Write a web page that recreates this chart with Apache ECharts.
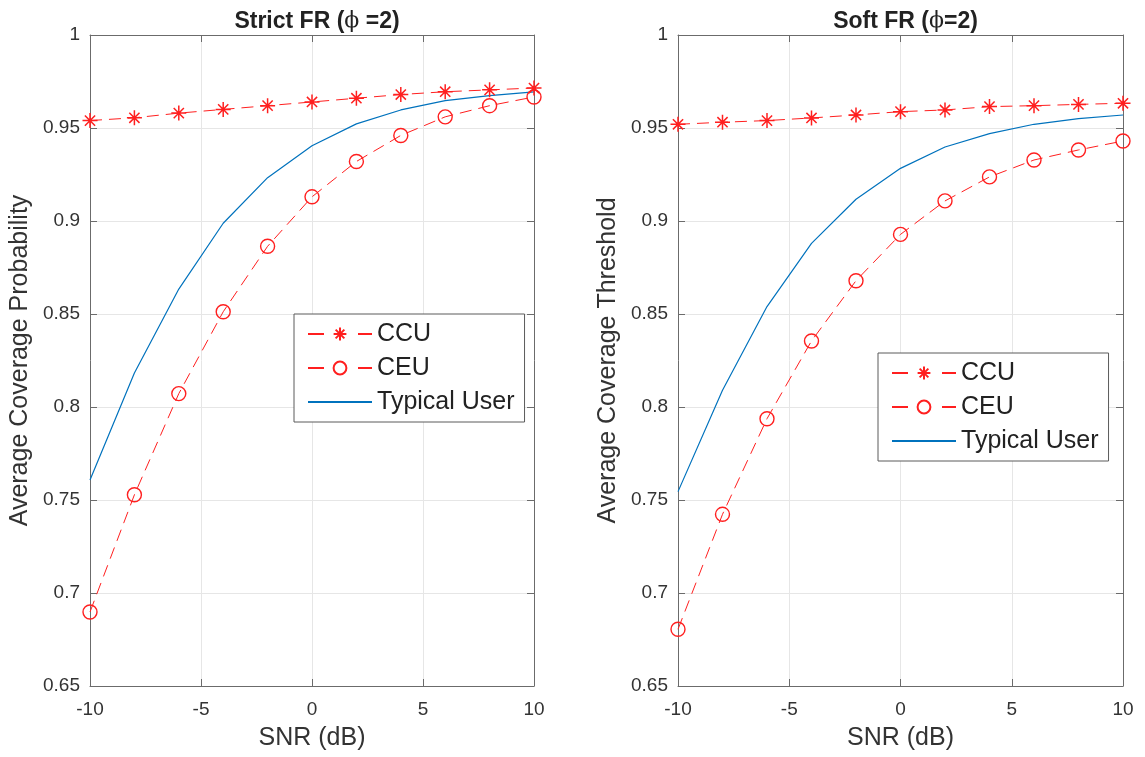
<!DOCTYPE html>
<html>
<head>
<meta charset="utf-8">
<script src="https://cdn.jsdelivr.net/npm/echarts@6/dist/echarts.min.js"></script>
<style>
html,body{margin:0;padding:0;background:#fff;}
#chart{width:1145px;height:757px;}
</style>
</head>
<body>
<div id="chart"></div>
<script>
// ---- data ----
const snr = [-10, -8, -6, -4, -2, 0, 2, 4, 6, 8, 10];
const strictCCU = [0.954, 0.9555, 0.958, 0.960, 0.962, 0.964, 0.966, 0.968, 0.9695, 0.9705, 0.9715];
const strictCEU = [0.6898, 0.7528, 0.8072, 0.8512, 0.8864, 0.913, 0.932, 0.946, 0.956, 0.962, 0.9667];
const strictTypical = [0.7608, 0.8183, 0.8634, 0.8988, 0.9233, 0.9405, 0.9522, 0.9597, 0.9647, 0.9674, 0.9694];
const softCCU = [0.952, 0.9531, 0.954, 0.9554, 0.957, 0.9588, 0.9597, 0.9615, 0.962, 0.9627, 0.9633];
const softCEU = [0.6805, 0.7423, 0.7937, 0.8355, 0.8679, 0.8928, 0.9108, 0.9237, 0.9328, 0.9382, 0.943];
const softTypical = [0.7545, 0.809, 0.854, 0.888, 0.9117, 0.9283, 0.9398, 0.947, 0.952, 0.955, 0.957];
const seriesNames = ['CCU', 'CEU', 'Typical User'];
const titles = ['Strict FR (', 'Soft FR ('];
const titleTails = [' =2)', '=2)'];
const yNames = ['Average Coverage Probability', 'Average Coverage Threshold'];
const xName = 'SNR (dB)';

// ---- styling ----
const FONT = 'Liberation Sans, Arial, Helvetica, sans-serif';
const RED = '#ff1f1f';
const BLUE = '#0072BD';
const AXIS = '#6b6b6b';
const TXT = '#333333';
const grids = [
  {left: 90, top: 35, width: 444, height: 651},
  {left: 678, top: 35, width: 445, height: 651}
];
const pair = arr => snr.map((v, i) => [v, arr[i]]);
const star = 'path://M5,0L5,10M0,5L10,5M1.6,1.6L8.4,8.4M1.6,8.4L8.4,1.6';

const xAxes = [], yAxes = [], series = [], legends = [], titleOpts = [];
grids.forEach((g, gi) => {
  xAxes.push({
    gridIndex: gi, type: 'value', min: -10, max: 10, interval: 5, position: 'bottom',
    name: xName, nameLocation: 'middle', nameGap: 40,
    nameTextStyle: {fontFamily: FONT, fontSize: 25, color: TXT},
    axisLine: {show: true, onZero: false, lineStyle: {color: AXIS, width: 1}},
    axisTick: {show: true, inside: true, length: 7, lineStyle: {color: AXIS}},
    axisLabel: {fontFamily: FONT, fontSize: 19, color: TXT, margin: 14},
    splitLine: {show: true, lineStyle: {color: '#e6e6e6', width: 1}}
  });
  yAxes.push({
    gridIndex: gi, type: 'value', min: 0.65, max: 1, interval: 0.05, position: 'left',
    name: yNames[gi], nameLocation: 'middle', nameGap: 57,
    nameTextStyle: {fontFamily: FONT, fontSize: 25, color: TXT},
    axisLine: {show: true, onZero: false, lineStyle: {color: AXIS, width: 1}},
    axisTick: {show: true, inside: true, length: 7, lineStyle: {color: AXIS}},
    axisLabel: {fontFamily: FONT, fontSize: 19, color: TXT, margin: 10},
    splitLine: {show: true, lineStyle: {color: '#e6e6e6', width: 1}}
  });
});
grids.forEach((g, gi) => {
  xAxes.push({
    gridIndex: gi, type: 'value', min: -10, max: 10, interval: 5, position: 'top',
    axisLine: {show: true, onZero: false, lineStyle: {color: AXIS, width: 1}},
    axisTick: {show: true, inside: true, length: 7, lineStyle: {color: AXIS}},
    axisLabel: {show: false}, splitLine: {show: false}
  });
  yAxes.push({
    gridIndex: gi, type: 'value', min: 0.65, max: 1, interval: 0.05, position: 'right',
    axisLine: {show: true, onZero: false, lineStyle: {color: AXIS, width: 1}},
    axisTick: {show: true, inside: true, length: 7, lineStyle: {color: AXIS}},
    axisLabel: {show: false}, splitLine: {show: false}
  });
});

const dataSets = [[strictCCU, strictCEU, strictTypical], [softCCU, softCEU, softTypical]];
dataSets.forEach((sets, gi) => {
  series.push({
    name: seriesNames[0], type: 'line', xAxisIndex: gi, yAxisIndex: gi,
    data: pair(sets[0]), symbol: star, symbolSize: 15,
    lineStyle: {color: RED, width: 1, type: [12, 7]},
    itemStyle: {color: 'rgba(0,0,0,0)', borderColor: RED, borderWidth: 1.5}
  });
  series.push({
    name: seriesNames[1], type: 'line', xAxisIndex: gi, yAxisIndex: gi,
    data: pair(sets[1]), symbol: 'circle', symbolSize: 14,
    lineStyle: {color: RED, width: 1, type: [12, 7]},
    itemStyle: {color: 'rgba(0,0,0,0)', borderColor: RED, borderWidth: 1.4}
  });
  series.push({
    name: seriesNames[2], type: 'line', xAxisIndex: gi, yAxisIndex: gi,
    data: pair(sets[2]), symbol: 'none', showSymbol: false,
    lineStyle: {color: BLUE, width: 1.2},
    itemStyle: {color: BLUE}
  });
});

const legendPos = [{left: 294, top: 314}, {left: 878, top: 353}];
legendPos.forEach((p, gi) => {
  legends.push({
    left: p.left, top: p.top, orient: 'vertical',
    data: [
      {name: seriesNames[0], lineStyle: {type: [16, 34]}},
      {name: seriesNames[1], lineStyle: {type: [16, 34]}},
      {name: seriesNames[2], itemStyle: {opacity: 0}}
    ],
    itemWidth: 64, itemHeight: 16, itemGap: 4,
    padding: [5, 10, 5, 13],
    backgroundColor: '#fff', borderColor: '#5a5a5a', borderWidth: 1,
    textStyle: {fontFamily: FONT, fontSize: 25, color: '#222', lineHeight: 30},
    selectedMode: false
  });
});

const titleCenters = [312, 900.5];
titleCenters.forEach((cx, gi) => {
  titleOpts.push({
    text: '{b|' + titles[gi] + '}{p|ϕ}{b|' + titleTails[gi] + '}',
    left: cx, top: 5, textAlign: 'center',
    textStyle: {
      rich: {
        b: {fontFamily: FONT, fontSize: 23, fontWeight: 'bold', color: '#222'},
        p: {fontFamily: 'DejaVu Serif, serif', fontSize: 22, fontWeight: 'normal', color: '#222'}
      }
    }
  });
});

const chart = echarts.init(document.getElementById('chart'), null, {renderer: 'canvas'});
chart.setOption({
  animation: false,
  backgroundColor: '#fff',
  title: titleOpts,
  grid: grids,
  xAxis: xAxes,
  yAxis: yAxes,
  legend: legends,
  series: series
});
</script>
</body>
</html>
